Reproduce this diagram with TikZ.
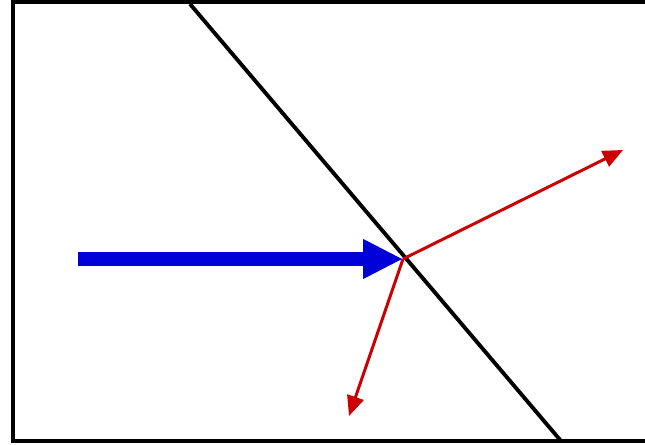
\documentclass[tikz,border=0pt]{standalone}
\usepackage{tikz}
\usetikzlibrary{arrows.meta,calc}

\begin{document}
\begin{tikzpicture}[x=0.02cm, y=-0.02cm,
          frame/.style={draw=black, line width=2pt},
          surface/.style={draw=black, line width=2.2pt},
          incident/.style={-{Triangle[length=0.8cm, width=0.74cm]}, line width=0.28cm, blue!85!black},
          ray/.style={-{Triangle[length=0.4cm, width=0.34cm]}, line width=1.7pt, red!80!black}
        ]
          \useasboundingbox (0,0) rectangle (645,445);
          \coordinate (ftr) at (645,2);
          \coordinate (ftl) at (13,2);
          \coordinate (fbl) at (13,441);
          \coordinate (fbr) at (645,441);
          \draw[frame] (ftr) -- (ftl) -- (fbl) -- (fbr);
          % boundary surface
          \coordinate (stop) at (190,4);
          \coordinate (sbot) at (561,441);
          \draw[surface] (stop) -- (sbot);
          % rays
          \coordinate (hit) at (403,259);
          \coordinate (src) at (78,259);
          \coordinate (refl) at (623,150);
          \coordinate (refr) at (349,416);
          \draw[incident] (src) -- (hit);
          \draw[ray] (hit) -- (refl);
          \draw[ray] (hit) -- (refr);
        \end{tikzpicture}
\end{document}
